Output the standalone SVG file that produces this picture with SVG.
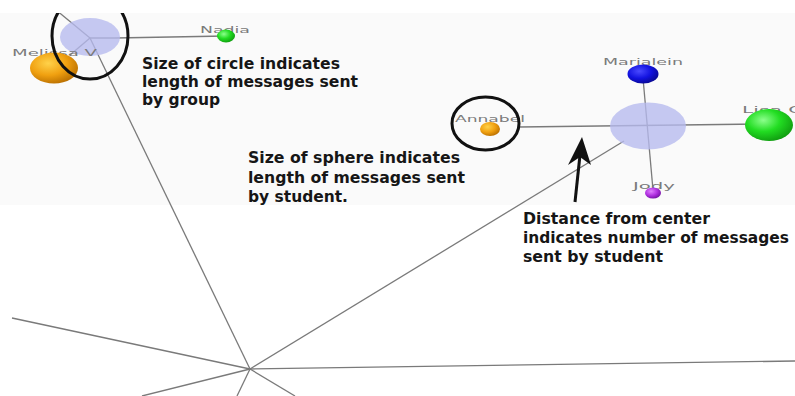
<svg xmlns="http://www.w3.org/2000/svg" width="795" height="396" viewBox="0 0 795 396">
<defs>
<radialGradient id="gOrange" cx="0.38" cy="0.35" r="0.7"><stop offset="0" stop-color="#ffd24a"/><stop offset="0.55" stop-color="#f0a010"/><stop offset="1" stop-color="#b86e00"/></radialGradient>
<radialGradient id="gGreen" cx="0.38" cy="0.35" r="0.7"><stop offset="0" stop-color="#8cff8c"/><stop offset="0.5" stop-color="#22dd22"/><stop offset="1" stop-color="#0f9a0f"/></radialGradient>
<radialGradient id="gBlue" cx="0.38" cy="0.35" r="0.7"><stop offset="0" stop-color="#4a4aff"/><stop offset="0.55" stop-color="#1212e0"/><stop offset="1" stop-color="#080890"/></radialGradient>
<radialGradient id="gPurple" cx="0.38" cy="0.35" r="0.7"><stop offset="0" stop-color="#e080ff"/><stop offset="0.55" stop-color="#b030e0"/><stop offset="1" stop-color="#7010a0"/></radialGradient>
<clipPath id="scr"><rect x="0" y="13" width="795" height="383"/></clipPath>
</defs>
<style>
.ln{stroke:#7a7a7a;stroke-width:1.3;fill:none}
.grp{fill:#b6baee;fill-opacity:0.78}
.ring{fill:none;stroke:#111;stroke-width:3}
.lbl{font-family:"DejaVu Sans",sans-serif;font-size:9px;fill:#7a7a7a}
.note{font-family:"DejaVu Sans Condensed","DejaVu Sans","Liberation Sans",sans-serif;font-weight:bold;font-size:16px;fill:#161616}
</style>
<rect x="0" y="0" width="795" height="396" fill="#ffffff"/>
<rect x="0" y="13" width="795" height="192" fill="#fafafa"/>
<g id="connectors" clip-path="url(#scr)">
<line class="ln" x1="250" y1="369" x2="12" y2="318"/>
<line class="ln" x1="250" y1="369" x2="90" y2="38"/>
<line class="ln" x1="250" y1="369" x2="624" y2="141"/>
<line class="ln" x1="250" y1="369" x2="795" y2="361"/>
<line class="ln" x1="250" y1="369" x2="142" y2="396"/>
<line class="ln" x1="250" y1="369" x2="237" y2="396"/>
<line class="ln" x1="250" y1="369" x2="295" y2="396"/>
<line class="ln" x1="90" y1="38" x2="50" y2="5"/>
<line class="ln" x1="90" y1="38" x2="70" y2="55"/>
<polyline class="ln" points="90,38 115,38 226,36"/>
<line class="ln" x1="519" y1="127" x2="760" y2="124"/>
<line class="ln" x1="643" y1="78" x2="653" y2="190"/>
</g>
<g id="group-left" clip-path="url(#scr)">
<ellipse class="grp" cx="90" cy="37" rx="30" ry="19"/>
</g>
<g id="node-melissa">
<text class="lbl" x="12" y="56" textLength="85" lengthAdjust="spacingAndGlyphs">Melissa V</text>
<ellipse cx="54" cy="68" rx="24" ry="15.5" fill="url(#gOrange)"/>
</g>
<g id="ring-group" clip-path="url(#scr)">
<ellipse class="ring" cx="90" cy="36" rx="38" ry="43"/>
</g>
<g id="node-nadia">
<text class="lbl" x="200" y="33" textLength="50" lengthAdjust="spacingAndGlyphs">Nadia</text>
<ellipse cx="226" cy="36" rx="9" ry="6.5" fill="url(#gGreen)"/>
</g>
<g id="group-right">
<ellipse class="grp" cx="648" cy="126" rx="38" ry="23.5"/>
</g>
<g id="node-annabel">
<text class="lbl" x="455" y="122" textLength="70" lengthAdjust="spacingAndGlyphs">Annabel</text>
<ellipse cx="490" cy="129" rx="10" ry="7" fill="url(#gOrange)"/>
<ellipse class="ring" cx="485.5" cy="123.5" rx="33.5" ry="26.5"/>
</g>
<g id="node-marialein">
<text class="lbl" x="603" y="65" textLength="80" lengthAdjust="spacingAndGlyphs">Marialein</text>
<ellipse cx="643" cy="74" rx="15.5" ry="9.5" fill="url(#gBlue)"/>
</g>
<g id="node-lisa">
<text class="lbl" x="742" y="113" textLength="62" lengthAdjust="spacingAndGlyphs">Lisa G</text>
<ellipse cx="769" cy="125" rx="24" ry="16" fill="url(#gGreen)"/>
</g>
<g id="node-jody">
<text class="lbl" x="633" y="189" textLength="42" lengthAdjust="spacingAndGlyphs">Jody</text>
<ellipse cx="653" cy="193" rx="8" ry="5.5" fill="url(#gPurple)"/>
</g>
<g id="arrow">
<line x1="575" y1="202" x2="580" y2="155" stroke="#111" stroke-width="3"/>
<path d="M582,137 L591,165 L580,157 L568,165 Z" fill="#111"/>
</g>
<g id="note-circle">
<text class="note" x="142" y="69" textLength="198" lengthAdjust="spacingAndGlyphs">Size of circle indicates</text>
<text class="note" x="142" y="87" textLength="216" lengthAdjust="spacingAndGlyphs">length of messages sent</text>
<text class="note" x="142" y="105" textLength="78" lengthAdjust="spacingAndGlyphs">by group</text>
</g>
<g id="note-sphere">
<text class="note" x="248" y="163" textLength="212" lengthAdjust="spacingAndGlyphs">Size of sphere indicates</text>
<text class="note" x="248" y="183" textLength="217" lengthAdjust="spacingAndGlyphs">length of messages sent</text>
<text class="note" x="248" y="202" textLength="100" lengthAdjust="spacingAndGlyphs">by student.</text>
</g>
<g id="note-distance">
<text class="note" x="523" y="224" textLength="187" lengthAdjust="spacingAndGlyphs">Distance from center</text>
<text class="note" x="523" y="243" textLength="266" lengthAdjust="spacingAndGlyphs">indicates number of messages</text>
<text class="note" x="523" y="262" textLength="140" lengthAdjust="spacingAndGlyphs">sent by student</text>
</g>
</svg>
